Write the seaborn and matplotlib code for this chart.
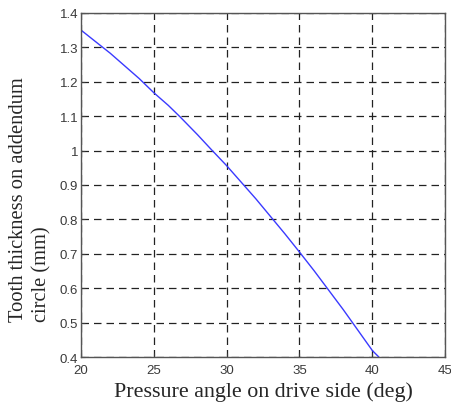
"""
Tooth thickness on addendum circle vs pressure angle on drive side
"""

import matplotlib
matplotlib.use('Agg')
import matplotlib.pyplot as plt
import seaborn as sns
import pandas as pd

# Values
pressure_angle = [20, 21.4, 22, 24, 25, 26, 26.8, 28, 28.9, 30, 32, 34, 35, 36, 38, 40, 40.45]
tooth_thickness = [1.35, 1.303, 1.283, 1.209, 1.168, 1.131, 1.098, 1.046, 1.005, 0.956,
                   0.860, 0.758, 0.705, 0.651, 0.538, 0.419, 0.40]

x_ticks = [20, 25, 30, 35, 40, 45]
y_ticks = [0.4, 0.5, 0.6, 0.7, 0.8, 0.9, 1.0, 1.1, 1.2, 1.3, 1.4]
y_tick_labels = ['0.4', '0.5', '0.6', '0.7', '0.8', '0.9', '1', '1.1', '1.2', '1.3', '1.4']

sns.set_style("ticks")
plt.rcParams['font.family'] = ['Liberation Sans', 'DejaVu Sans']

df = pd.DataFrame({'angle': pressure_angle, 'thickness': tooth_thickness})

fig = plt.figure(figsize=(4.52, 4.06), dpi=100)
ax = fig.add_axes([0.179, 0.118, 0.806, 0.848])

sns.lineplot(data=df, x='angle', y='thickness', ax=ax, color='#3a3aff', linewidth=1.0)

ax.set_xlim(20, 45)
ax.set_ylim(0.4, 1.4)
ax.set_xticks(x_ticks)
ax.set_yticks(y_ticks)
ax.set_yticklabels(y_tick_labels)
ax.tick_params(direction='in', length=3, labelsize=9.5, colors='#3a3a3a')
ax.tick_params(axis='x', pad=5)
ax.tick_params(axis='y', pad=2)
ax.grid(True, color='#222222', linestyle=(0, (6, 4)), linewidth=0.9)

for side in ['top', 'right', 'bottom', 'left']:
    ax.spines[side].set_visible(True)
    ax.spines[side].set_color('#555555')
    ax.spines[side].set_linewidth(1.0)

serif = ['Liberation Serif', 'DejaVu Serif']
ax.set_xlabel('Pressure angle on drive side (deg)', family=serif, fontsize=15.8, labelpad=4)
ax.set_ylabel('Tooth thickness on addendum\ncircle (mm)', family=serif, fontsize=14.8,
              linespacing=1.35, multialignment='left')
ax.yaxis.set_label_coords(-0.08, 0.459)

fig.savefig('out.png', dpi=100)
plt.close()
